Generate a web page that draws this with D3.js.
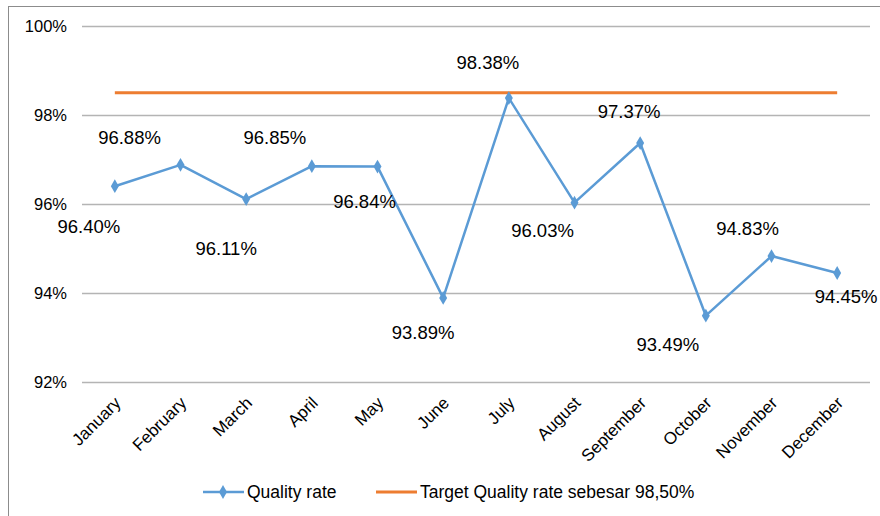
<!DOCTYPE html>
<html><head><meta charset="utf-8">
<script src="https://cdn.jsdelivr.net/npm/d3@7"></script>
<style>
html,body{margin:0;padding:0;background:#fff;overflow:hidden}
text{font-family:"Liberation Sans",Arial,sans-serif;fill:#000}
</style></head>
<body><svg id="c" width="880" height="516"></svg>
<script>
const months = ["January","February","March","April","May","June","July","August","September","October","November","December"];
const qualityRate = [96.40, 96.88, 96.11, 96.85, 96.84, 93.89, 98.38, 96.03, 97.37, 93.49, 94.83, 94.45];
const targetRate = 98.50;
const yTicks = [92, 94, 96, 98, 100];
const seriesNames = ["Quality rate", "Target Quality rate sebesar 98,50%"];
// label placement relative to each point (px)
const labelOffsets = [[-26,40],[-51,-28],[-20,49],[-37,-29],[-13,35],[-20,34],[-21,-36],[-32,28],[-11,-32],[-38,29],[-24,-28],[9,23]];

const svg = d3.select("#c");
const blue = "#5B9BD5", orange = "#ED7D31";

svg.append("rect").attr("x",8.5).attr("y",6.5).attr("width",880).attr("height",520)
  .attr("fill","none").attr("stroke","#8c8c8c").attr("stroke-width",1);

const x = d3.scaleBand().domain(months).range([82,870]);
const y = d3.scaleLinear().domain([92,100]).range([382,26]);

// grid
svg.append("g").selectAll("line").data(yTicks).join("line")
  .attr("x1",82).attr("x2",870).attr("y1",d=>Math.round(y(d))+0.5).attr("y2",d=>Math.round(y(d))+0.5)
  .attr("stroke","#b4b4b4").attr("stroke-width",1.3);

// y axis
const yAxis = svg.append("g").attr("transform","translate(82,0)")
  .call(d3.axisLeft(y).tickValues(yTicks).tickSize(0).tickPadding(15).tickFormat(d=>d+"%"));
yAxis.select(".domain").remove();
yAxis.selectAll("text").style("font-size","16.5px").attr("font-family",null);

// x axis
const xAxis = svg.append("g").attr("transform","translate(0,382)")
  .call(d3.axisBottom(x).tickSize(0).tickPadding(0));
xAxis.select(".domain").remove();
xAxis.selectAll("text").style("font-size","17px").attr("font-family",null)
  .attr("text-anchor","end").attr("dy",null).attr("y",null)
  .attr("transform","translate(7,22) rotate(-45)");

const cx = d => x(d) + x.bandwidth()/2;

// target line
svg.append("line").attr("x1",cx(months[0])).attr("x2",cx(months[months.length-1]))
  .attr("y1",y(targetRate)).attr("y2",y(targetRate))
  .attr("stroke",orange).attr("stroke-width",3);

// quality line
const line = d3.line().x((d,i)=>cx(months[i])).y(d=>y(d));
svg.append("path").datum(qualityRate).attr("d",line)
  .attr("fill","none").attr("stroke",blue).attr("stroke-width",2.5).attr("stroke-linejoin","round");

const diamond = d3.symbol().type(d3.symbolDiamond).size(55);
svg.append("g").selectAll("path").data(qualityRate).join("path")
  .attr("d",diamond).attr("fill",blue)
  .attr("transform",(d,i)=>`translate(${cx(months[i])},${y(d)})`);

// data labels
svg.append("g").selectAll("text").data(qualityRate).join("text")
  .attr("x",(d,i)=>cx(months[i])+labelOffsets[i][0])
  .attr("y",(d,i)=>y(d)+labelOffsets[i][1])
  .attr("dy","0.36em").attr("text-anchor","middle")
  .style("font-size","18.5px")
  .text(d=>d.toFixed(2)+"%");

// legend
const lg = svg.append("g").attr("transform","translate(0,492)");
lg.append("line").attr("x1",203).attr("x2",244).attr("y1",0).attr("y2",0).attr("stroke",blue).attr("stroke-width",2.5);
lg.append("path").attr("d",diamond).attr("fill",blue).attr("transform","translate(223,0)");
lg.append("text").attr("x",247).attr("y",0).attr("dy","0.36em").style("font-size","17.5px").text(seriesNames[0]);
lg.append("line").attr("x1",376).attr("x2",417).attr("y1",0).attr("y2",0).attr("stroke",orange).attr("stroke-width",3);
lg.append("text").attr("x",420).attr("y",0).attr("dy","0.36em").style("font-size","17.5px").text(seriesNames[1]);
</script></body></html>
